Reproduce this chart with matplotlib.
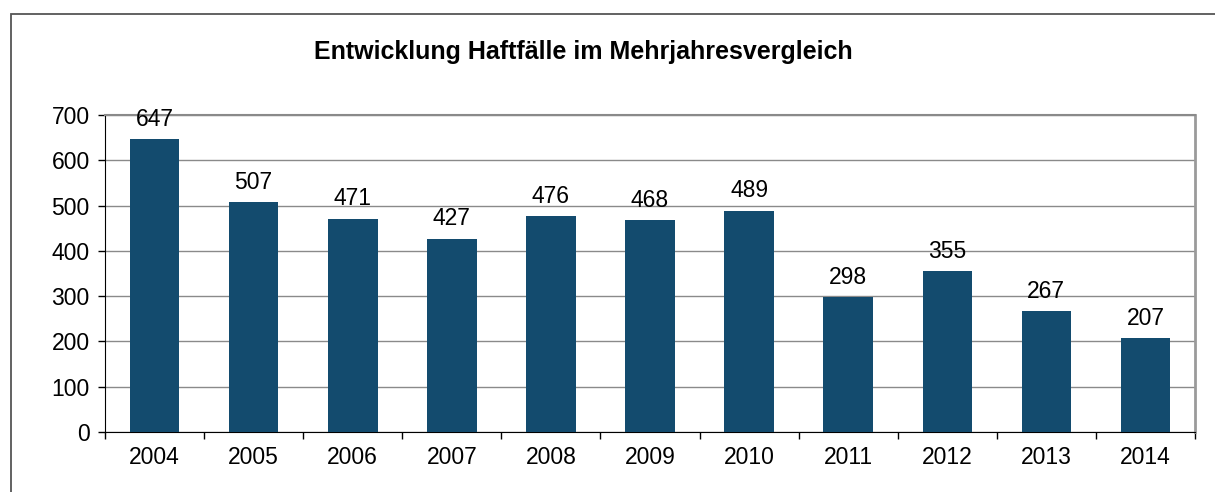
import matplotlib.pyplot as plt
from matplotlib.patches import Rectangle

years = ["2004", "2005", "2006", "2007", "2008", "2009", "2010", "2011", "2012", "2013", "2014"]
cases = [647, 507, 471, 427, 476, 468, 489, 298, 355, 267, 207]
y_ticks = [0, 100, 200, 300, 400, 500, 600, 700]

plt.rcParams['font.family'] = ['Liberation Sans', 'DejaVu Sans']

W, H = 1215, 492
fig = plt.figure(figsize=(W / 100, H / 100), dpi=100)

# outer chart frame (cut off at the right and bottom)
fig.add_artist(Rectangle((11 / W, -0.1), 1.2, 1 - 14 / H + 0.1, transform=fig.transFigure,
                         fill=False, edgecolor="#555555", linewidth=1.3))

ax = fig.add_axes([105 / W, 1 - 432 / H, (1195 - 105) / W, (432 - 115) / H])
x = range(len(years))
ax.bar(x, cases, width=0.5, color="#134b6e", zorder=3)
for xi, v in zip(x, cases):
    ax.annotate(str(v), (xi, v), xytext=(0, 6), textcoords="offset points",
                ha="center", va="bottom", fontsize=16.5)

ax.set_xlim(-0.5, len(years) - 0.5)
ax.set_ylim(0, 700)
ax.set_yticks(y_ticks)
ax.set_yticklabels([str(t) for t in y_ticks], fontsize=16.5)
ax.set_xticks(list(x))
ax.set_xticklabels(years, fontsize=16.5)
ax.tick_params(axis="x", length=0, pad=10)
ax.tick_params(axis="y", length=5, width=1, direction="out", pad=6)
ax.set_xticks([i + 0.5 for i in range(-1, len(years))], minor=True)
ax.tick_params(axis="x", which="minor", length=5, width=1, direction="out")

ax.grid(axis="y", color="#8a8a8a", linewidth=1, zorder=0)
ax.spines["left"].set_color("black")
ax.spines["bottom"].set_color("black")
ax.spines["top"].set_color("#8a8a8a")
ax.spines["right"].set_color("#9a9a9a")
ax.spines["right"].set_linewidth(2)
ax.spines["top"].set_linewidth(1.5)

fig.text(583 / W, 1 - 52 / H, "Entwicklung Haftfälle im Mehrjahresvergleich",
         ha="center", va="center", fontsize=18, fontweight="bold")

fig.savefig("out.png", dpi=100)
